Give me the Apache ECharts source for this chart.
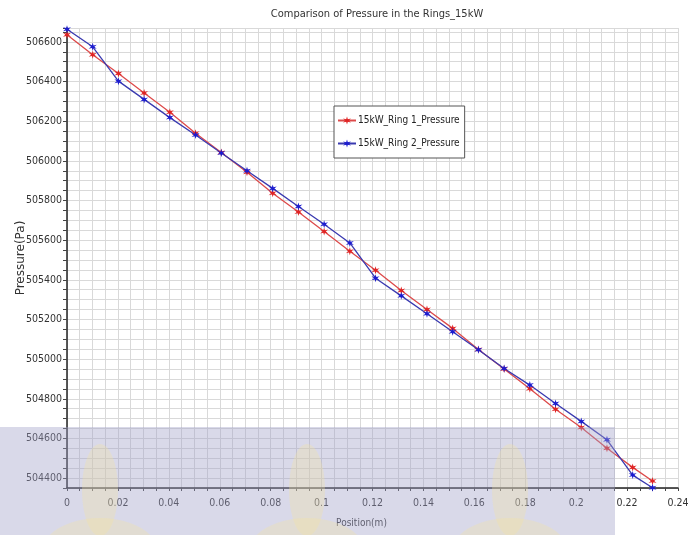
<!DOCTYPE html>
<html>
<head>
<meta charset="utf-8">
<script src="https://cdn.jsdelivr.net/npm/echarts@6/dist/echarts.min.js"></script>
<style>
html,body{margin:0;padding:0;background:#fff;}
#chart{width:689px;height:535px;}
</style>
</head>
<body>
<div id="chart"></div>
<script>
// ---- data ----
const titleText = 'Comparison of Pressure in the Rings_15kW';
const xName = 'Position(m)';
const yName = 'Pressure(Pa)';
const seriesNames = ['15kW_Ring 1_Pressure', '15kW_Ring 2_Pressure'];
const positions = [0, 0.0101, 0.0202, 0.0303, 0.0404, 0.0505, 0.0606, 0.0707, 0.0808, 0.0909, 0.101, 0.1111,
  0.1212, 0.1313, 0.1414, 0.1515, 0.1616, 0.1717, 0.1818, 0.1919, 0.202, 0.2121, 0.2222, 0.23];
const ring1 = [506636, 506535, 506441, 506342, 506245, 506139, 506042, 505943, 505837, 505742, 505644, 505544,
  505448, 505346, 505250, 505155, 505049, 504950, 504851, 504747, 504655, 504551, 504454, 504385];
const ring2 = [506664, 506575, 506402, 506310, 506218, 506130, 506040, 505950, 505861, 505770, 505680, 505586,
  505408, 505319, 505229, 505138, 505047, 504953, 504869, 504776, 504686, 504593, 504415, 504351];
const xMin = 0, xMax = 0.24, xMajor = 0.02, xMinor = 0.005;
const yMin = 504350, yMax = 506670, yMajor = 200, yMinor = 50;

// ---- chart ----
const FONT = '"DejaVu Sans Condensed","Liberation Sans",sans-serif';
function starPath() {
  const pts = [];
  const n = 6, R = 5, r = 1.8;
  for (let i = 0; i < n * 2; i++) {
    const a = Math.PI * i / n - Math.PI / 2;
    const rad = i % 2 === 0 ? R : r;
    pts.push((5 + rad * Math.cos(a)).toFixed(2) + ',' + (5 + rad * Math.sin(a)).toFixed(2));
  }
  return 'path://M' + pts.join('L') + 'Z';
}
const STAR = starPath();
function zip(xs, ys) { return xs.map((x, i) => [x, ys[i]]); }
function isMultiple(v, step) {
  const q = v / step;
  return Math.abs(q - Math.round(q)) < 1e-6;
}

const chart = echarts.init(document.getElementById('chart'), null, {renderer: 'canvas'});

const watermarkCenters = [100, 307, 510];
const graphics = [{
  type: 'rect', z: 100, silent: true,
  shape: {x: 0, y: 427, width: 615, height: 108},
  style: {fill: 'rgba(160,160,200,0.40)'}
}];
watermarkCenters.forEach(cx => {
  graphics.push({type: 'ellipse', z: 101, silent: true,
    shape: {cx: cx, cy: 490, rx: 18, ry: 46},
    style: {fill: 'rgba(245,228,160,0.30)'}});
  graphics.push({type: 'ellipse', z: 101, silent: true,
    shape: {cx: cx, cy: 552, rx: 58, ry: 34},
    style: {fill: 'rgba(245,228,160,0.30)'}});
});

chart.setOption({
  animation: false,
  backgroundColor: '#ffffff',
  title: {
    text: titleText,
    left: 372, top: 4, textAlign: 'center',
    textStyle: {fontFamily: FONT, fontSize: 11, fontWeight: 'normal', color: '#333'}
  },
  legend: {
    orient: 'vertical',
    left: 334, top: 106,
    padding: [8, 5, 8, 3],
    itemGap: 10,
    itemWidth: 18, itemHeight: 10,
    backgroundColor: '#fff',
    borderColor: '#555', borderWidth: 1,
    textStyle: {fontFamily: FONT, fontSize: 10, lineHeight: 13, color: '#222', padding: [0, 0, 0, -3]},
    data: seriesNames
  },
  grid: {left: 67, right: 11, top: 28, bottom: 47, containLabel: false, outerBoundsMode: 'none'},
  xAxis: {
    type: 'value', min: xMin, max: xMax, interval: xMinor,
    name: xName, nameLocation: 'middle', nameGap: 30, nameMoveOverlap: false,
    nameTextStyle: {fontFamily: FONT, fontSize: 10, color: '#333', padding: [0, 22, 0, 0]},
    axisLine: {lineStyle: {color: '#222', width: 1.5}},
    axisTick: {show: true, length: 3, lineStyle: {color: '#444'}},
    axisLabel: {
      fontFamily: FONT, fontSize: 10.5, color: '#333', margin: 10,
      formatter: v => isMultiple(v, xMajor) ? String(Math.round(v * 1000) / 1000) : ''
    },
    splitLine: {show: true, lineStyle: {color: '#d9d9d9', width: 1}}
  },
  yAxis: {
    type: 'value', min: yMin, max: yMax, interval: yMinor,
    name: yName, nameLocation: 'middle', nameGap: 40, nameMoveOverlap: false,
    nameTextStyle: {fontFamily: '"DejaVu Sans",sans-serif', fontSize: 12, color: '#333'},
    axisLine: {show: true, lineStyle: {color: '#222', width: 1.5}},
    axisTick: {show: true, length: 4, lineStyle: {color: '#444'}},
    axisLabel: {
      fontFamily: FONT, fontSize: 10.5, color: '#333', margin: 5,
      formatter: v => (v % yMajor === 0) ? String(v) : ''
    },
    splitLine: {show: true, lineStyle: {color: '#d9d9d9', width: 1}}
  },
  series: [{
    name: seriesNames[0], type: 'line', data: zip(positions, ring1),
    symbol: STAR, symbolSize: 8, showSymbol: true,
    lineStyle: {color: '#dd4a4a', width: 1.3},
    itemStyle: {color: '#e02424'}
  }, {
    name: seriesNames[1], type: 'line', data: zip(positions, ring2),
    symbol: STAR, symbolSize: 8, showSymbol: true,
    lineStyle: {color: '#3a3ab0', width: 1.3},
    itemStyle: {color: '#1c1ccf'}
  }],
  graphic: graphics
});
</script>
</body>
</html>
